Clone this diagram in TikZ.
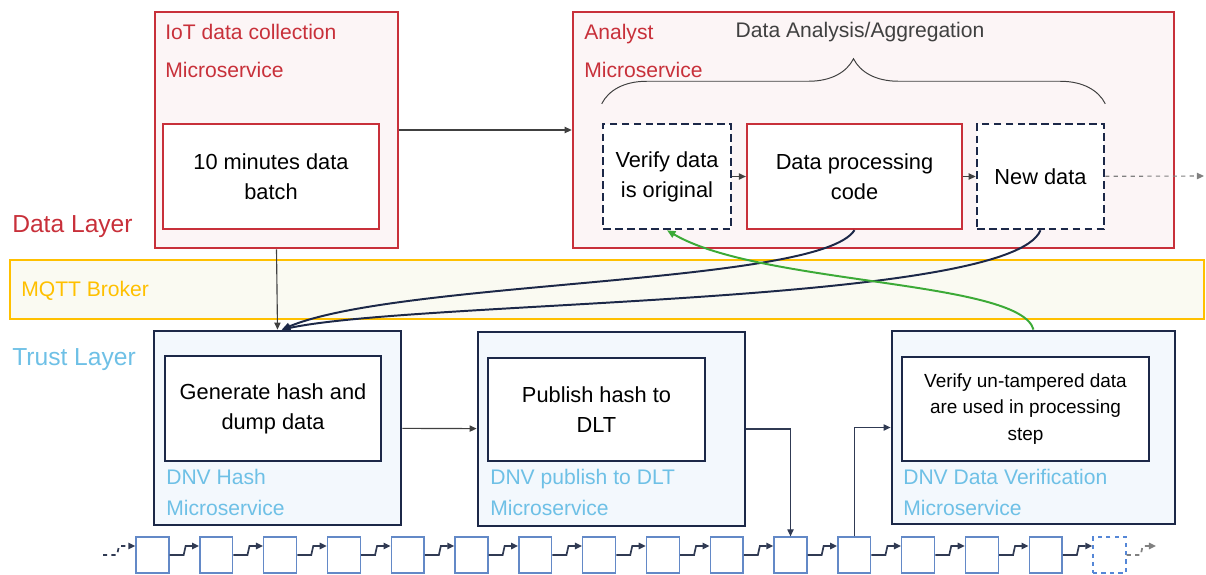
\documentclass[tikz,border=0pt]{standalone}
\usepackage{fontspec}
\setmainfont{Liberation Sans}
\usepackage{xcolor}
\usetikzlibrary{
    positioning,
    calc,
    arrows.meta,
    decorations.pathreplacing
}
\definecolor{datared}{RGB}{200,48,58}
\definecolor{datafill}{RGB}{252,245,246}
\definecolor{brokeryellow}{RGB}{255,192,0}
\definecolor{brokerfill}{RGB}{250,250,242}
\definecolor{trustnavy}{RGB}{28,40,72}
\definecolor{trustfill}{RGB}{243,248,253}
\definecolor{trustblue}{RGB}{110,192,230}
\definecolor{arrowgrey}{RGB}{64,64,64}
\definecolor{checkgreen}{RGB}{60,170,55}
\definecolor{blockblue}{RGB}{85,135,215}
\definecolor{blockgrey}{RGB}{125,140,170}
\tikzset{
  size/.style 2 args = {
      minimum width=#1*0.025cm,
      minimum height=#2*0.025cm
  },
  outer/.style = {
      draw,
      rectangle,
      inner sep=0pt
  },
  datasvc/.style = {
      outer,
      draw=datared,
      fill=datafill,
      line width=1.8pt
  },
  trustsvc/.style = {
      outer,
      draw=trustnavy,
      fill=trustfill,
      line width=2pt
  },
  task/.style = {
      outer,
      fill=white,
      align=center,
      font=\fontsize{15.5}{21.3}\selectfont
  },
  datatask/.style = {
      task,
      draw=datared,
      line width=1.6pt
  },
  checktask/.style = {
      task,
      draw=trustnavy,
      line width=1.8pt,
      dash pattern=on 5.5pt off 3pt
  },
  trusttask/.style = {
      task,
      draw=trustnavy,
      line width=1.8pt
  },
  layer/.style = {
      anchor=west,
      inner sep=0pt,
      font=\fontsize{17.5}{21}\selectfont
  },
  svclabel/.style = {
      anchor=west,
      inner sep=0pt,
      align=left,
      font=\fontsize{15}{22}\selectfont
  },
  block/.style = {
      draw=blockblue!65!blockgrey,
      fill=white,
      line width=1pt,
      minimum width=23.4pt,
      minimum height=25.5pt,
      inner sep=0pt
  },
  link/.style = {
      draw=trustnavy!80!gray,
      line width=1.2pt,
      -{Triangle[length=5pt,width=4.5pt]}
  },
  flow/.style = {
      draw=arrowgrey,
      line width=0.8pt,
      -{Triangle[length=5pt,width=4.5pt]}
  },
  feed/.style = {
      draw=trustnavy,
      line width=1.4pt,
      -{Triangle[length=6pt,width=5pt]}
  },
  check/.style = {
      draw=checkgreen,
      line width=1.4pt,
      -{Triangle[length=6pt,width=5pt]}
  },
  brace/.style = {
      draw=arrowgrey,
      line width=0.7pt,
      decorate,
      decoration={brace, amplitude=32pt, aspect=0.5}
  }
}
\begin{document}
\begin{tikzpicture}[x=0.025cm, y=-0.025cm]
    \useasboundingbox (0,0) rectangle (1206,574);
    % Data layer
    \node[datasvc, size={243}{236}] (iot) at (276.5,130) {};
    \node[datatask, size={216}{105}] (batch) at (271,176.5) {10 minutes data\\batch};
    \node[svclabel, text=datared, font=\fontsize{15}{27.6}\selectfont] (iotlbl) at (165,51) {IoT data collection\\Microservice};
    \node[datasvc, size={601}{236}] (analyst) at (873.5,130) {};
    \node[svclabel, text=datared, font=\fontsize{15}{27.6}\selectfont] (analystlbl) at (584,51) {Analyst\\Microservice};
    \node[font=\fontsize{15}{18}\selectfont, text=arrowgrey] (aggr) at (860,32) {Data Analysis/Aggregation};
    \node[checktask, size={128}{105}] (verify) at (667,176.5) {Verify data\\is original};
    \node[datatask, size={215}{105}] (proc) at (854.5,176.5) {Data processing\\code};
    \node[checktask, size={127}{105}] (newdata) at (1040.5,176.5) {New data};
    \node[layer, text=datared] (datalayer) at (12,227) {Data Layer};
    % Broker
    \node[outer, draw=brokeryellow, fill=brokerfill, line width=1.8pt,
          size={1194}{59}] (mqtt) at (607,289.5) {};
    \node[svclabel, text=brokeryellow] (mqttlbl) at (21,291) {MQTT Broker};
    % Trust layer
    \node[layer, text=trustblue] (trustlayer) at (12,360) {Trust Layer};
    \node[trustsvc, size={247}{194}] (hash) at (277.5,428) {};
    \node[trusttask, size={216}{105}] (gen) at (273,408.5) {Generate hash and\\dump data};
    \node[svclabel, text=trustblue] (hashlbl) at (166,492) {DNV Hash\\Microservice};
    \node[trustsvc, size={267}{194}] (pub) at (611.5,429) {};
    \node[trusttask, size={217}{103}] (pubin) at (596.5,409.5) {Publish hash to\\DLT};
    \node[svclabel, text=trustblue] (publbl) at (490,492) {DNV publish to DLT\\Microservice};
    \node[trustsvc, size={283}{193}] (ver) at (1033.5,427.5) {};
    \node[trusttask, size={247}{104}, font=\fontsize{13.5}{19}\selectfont] (verin) at (1025.5,409)
        {Verify un-tampered data\\are used in processing\\step};
    \node[svclabel, text=trustblue] (verlbl) at (903,492) {DNV Data Verification\\Microservice};
    % Ledger
    \foreach \i in {0,...,14}
        \node[block] (b\i) at (152.5+63.8*\i,555) {};
    \node[block, dashed, draw=blockblue] (b15) at (152.5+63.8*15,555) {};
    \coordinate (chainstart) at (103,555);
    \coordinate (chainend) at (1156,546);
    \draw[link, dashed] (chainstart) -- ++(14,0) -- ++(2,-9) -- ([yshift=6.4pt]b0.west);
    \foreach \i [evaluate=\i as \j using int(\i+1)] in {0,...,14}
        \draw[link] (b\i.east) -- ++(14,0) -- ++(2,-9) -- ([yshift=6.4pt]b\j.west);
    \draw[link, dashed, draw=gray] (b15.east) -- ++(14,0) -- ++(2,-9) -- (chainend);
    % Edges
    \coordinate (out) at (1204,176);
    \draw[flow] (iot) -- (analyst);
    \draw[flow] (verify) -- (proc);
    \draw[flow] (proc) -- (newdata);
    \draw[flow, draw=gray, dashed] (newdata) -- (out);
    \draw[brace] ([yshift=13.5pt]verify.north west) -- ([yshift=13.5pt]newdata.north east);
    \draw[flow] (iot.south) -- (hash.north);
    \draw[flow] (hash) -- (pub);
    \draw[flow, draw=trustnavy!80!gray] (pub.east) -| (b10.north);
    \draw[flow, draw=trustnavy!80!gray] (b11.north) |- (ver.west);
    \draw[feed] (proc.south) .. controls (820,285) and (400,280) .. ([xshift=3pt]hash.north);
    \draw[feed] (newdata.south) .. controls (1010,305) and (420,300) .. ([xshift=3pt]hash.north);
    \draw[check] (ver.north) .. controls (1020,280) and (760,285) .. (verify.south);
\end{tikzpicture}
\end{document}
